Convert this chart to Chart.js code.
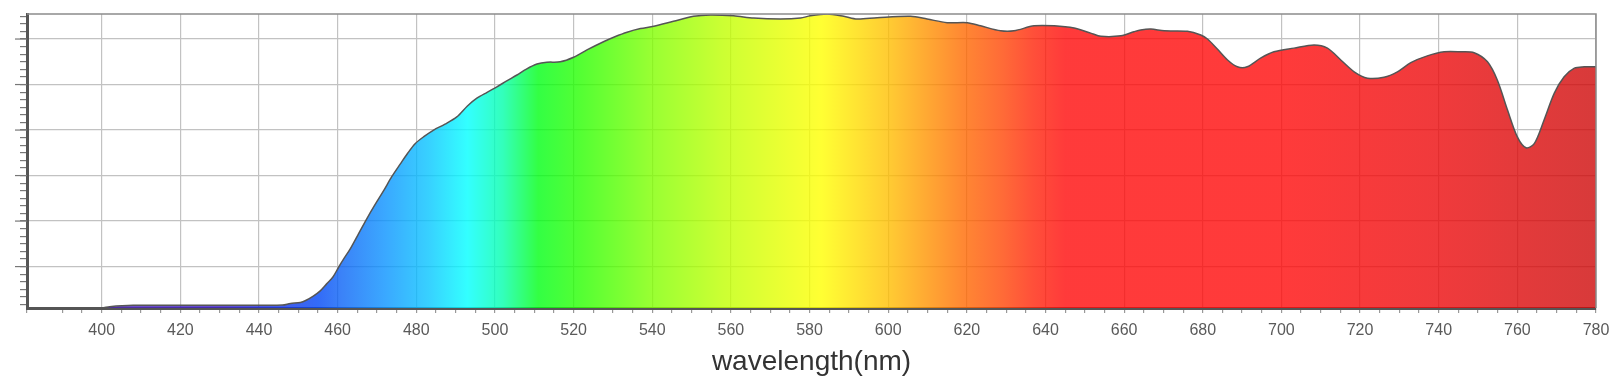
<!DOCTYPE html>
<html>
<head>
<meta charset="utf-8">
<script src="https://cdn.jsdelivr.net/npm/chart.js@4/dist/chart.umd.min.js"></script>
<style>
  body { margin: 0; background: #fff; }
</style>
</head>
<body>
<canvas id="spectrum" width="1620" height="384"></canvas>
<script>
// wavelength (nm) and relative intensity
const wavelength = [381, 400, 402, 408, 420, 440, 446, 448, 450.5, 452, 453.8, 455.5, 457.2, 458.8, 460.2,
  461.7, 463.2, 465.3, 467.4, 469.5, 471.7, 473.8, 475.9, 477.8, 479.7, 482, 484.4, 487.3, 490.3, 493,
  495.4, 498, 500.5, 503, 505.6, 508, 510.7, 513.2, 516.6, 520, 523.4, 527.6, 530.5, 533.6, 537, 540.4,
  545.4, 550.5, 554.8, 560.7, 565.8, 572.6, 577.7, 580.2, 584.5, 588.7, 592.1, 597.2, 605.7, 609.9, 615,
  620.1, 623.5, 628.6, 632, 637.1, 642.2, 647.3, 651.5, 654.1, 659.2, 662.5, 664.2, 666.8, 670.2, 676.1,
  679.5, 681.2, 683.7, 686.3, 688.8, 691.3, 694.7, 698.1, 703.2, 708.3, 711.7, 715.1, 718.5, 721.9, 726.1,
  729.5, 732.9, 737.1, 741.4, 745.6, 749, 752.4, 754.9, 757.5, 760, 762.2, 764.3, 766.8, 769.4, 771.9,
  774.5, 777, 780];
const intensity = [0.09, 0.09, 0.12, 0.15, 0.15, 0.15, 0.155, 0.19, 0.21, 0.26, 0.35, 0.46, 0.62, 0.77, 0.98,
  1.19, 1.39, 1.72, 2.05, 2.36, 2.67, 2.98, 3.25, 3.49, 3.70, 3.86, 4.00, 4.13, 4.29, 4.53,
  4.70, 4.83, 4.95, 5.08, 5.21, 5.34, 5.45, 5.49, 5.50, 5.60, 5.76, 5.94, 6.05, 6.15, 6.23, 6.28,
  6.39, 6.50, 6.53, 6.51, 6.46, 6.44, 6.46, 6.51, 6.55, 6.50, 6.44, 6.47, 6.50, 6.44, 6.36,
  6.36, 6.29, 6.18, 6.18, 6.29, 6.29, 6.24, 6.13, 6.06, 6.07, 6.16, 6.20, 6.22, 6.18, 6.17,
  6.09, 6.00, 5.78, 5.54, 5.39, 5.39, 5.58, 5.72, 5.80, 5.87, 5.80, 5.54, 5.28, 5.14, 5.16,
  5.28, 5.48, 5.63, 5.72, 5.72, 5.70, 5.50, 5.10, 4.44, 3.85, 3.61, 3.70, 4.22, 4.81, 5.17,
  5.36, 5.39, 5.39];

const xMin = 381, xMax = 780;
const xLabelEvery = 20;
const yMin = 0.09, yMax = 6.55;
const yMajor = [1, 2, 3, 4, 5, 6];
const yMinorPerMajor = 6;

// colour stops of the spectrum fill
const spectrumStops = [
  [381, 'rgba(90,40,170,0.8)'], [430, 'rgba(60,30,200,0.8)'], [445, 'rgba(20,50,230,0.8)'],
  [455, 'rgba(0,70,245,0.8)'], [461, 'rgba(10,99,246,0.8)'], [472, 'rgba(9,146,255,0.8)'],
  [483, 'rgba(6,196,255,0.8)'], [493, 'rgba(0,255,255,0.8)'], [502, 'rgba(0,255,170,0.8)'],
  [511, 'rgba(0,255,21,0.8)'], [522, 'rgba(42,255,0,0.8)'], [540, 'rgba(128,255,0,0.8)'],
  [558, 'rgba(191,255,0,0.8)'], [583, 'rgba(255,255,0,0.8)'], [600, 'rgba(255,191,0,0.8)'],
  [619, 'rgba(255,106,0,0.8)'], [629, 'rgba(255,70,5,0.8)'], [637, 'rgba(255,35,8,0.8)'],
  [645, 'rgba(255,9,9,0.8)'], [700, 'rgba(255,9,9,0.8)'], [740, 'rgba(236,9,11,0.8)'],
  [780, 'rgba(206,9,9,0.8)']
];

const yTickValues = [];
for (let k = 1; k * (1 / yMinorPerMajor) <= yMax; k++) {
  yTickValues.push(k / yMinorPerMajor);
}

function spectrumFill(context) {
  const chart = context.chart;
  const area = chart.chartArea;
  if (!area) return 'rgba(255,9,9,0.8)';
  const xs = chart.scales.x;
  const x0 = xs.getPixelForValue(xMin), x1 = xs.getPixelForValue(xMax);
  const g = chart.ctx.createLinearGradient(x0, 0, x1, 0);
  spectrumStops.forEach(s => {
    g.addColorStop((s[0] - xMin) / (xMax - xMin), s[1]);
  });
  return g;
}

// top / right frame and the longer major ticks on the y axis
const framePlugin = {
  id: 'frame',
  afterDraw(chart) {
    const c = chart.ctx, a = chart.chartArea, ys = chart.scales.y;
    c.save();
    c.strokeStyle = '#8c8c8c';
    c.lineWidth = 1.5;
    c.beginPath();
    c.moveTo(a.left, a.top);
    c.lineTo(a.right, a.top);
    c.lineTo(a.right, a.bottom);
    c.stroke();
    c.strokeStyle = '#777';
    c.lineWidth = 1.2;
    yMajor.forEach(v => {
      const y = ys.getPixelForValue(v);
      c.beginPath();
      c.moveTo(a.left - 12, y);
      c.lineTo(a.left, y);
      c.stroke();
    });
    c.restore();
  }
};

const ctx = document.getElementById('spectrum').getContext('2d');
const spectrumChart = new Chart(ctx, {
  type: 'line',
  data: {
    datasets: [{
      data: wavelength.map((w, i) => ({ x: w, y: intensity[i] })),
      borderColor: '#555',
      borderWidth: 1.5,
      backgroundColor: spectrumFill,
      fill: 'start',
      pointRadius: 0,
      tension: 0.3
    }]
  },
  options: {
    responsive: false,
    animation: false,
    layout: { padding: { top: 14, right: 24, bottom: 8, left: 20 } },
    plugins: { legend: { display: false }, tooltip: { enabled: false } },
    scales: {
      x: {
        type: 'linear',
        min: xMin,
        max: xMax,
        ticks: {
          stepSize: 5,
          autoSkip: false,
          maxRotation: 0,
          padding: 9.5,
          color: '#5a5a5a',
          font: { family: 'Liberation Sans', size: 16, lineHeight: 1.0 },
          callback: v => (v % xLabelEvery === 0 ? v : '')
        },
        grid: {
          color: c => (c.tick && c.tick.value % xLabelEvery === 0 ? '#c2c2c2' : 'rgba(0,0,0,0)'),
          lineWidth: 1.2,
          tickColor: '#999',
          tickLength: 5
        },
        border: { color: '#555', width: 3 },
        title: {
          display: true,
          text: 'wavelength(nm)',
          color: '#333',
          font: { family: 'Liberation Sans', size: 28, lineHeight: 1.0 },
          padding: { top: 0, bottom: 0 }
        }
      },
      y: {
        min: yMin,
        max: yMax,
        afterBuildTicks: scale => {
          scale.ticks = yTickValues.map(v => ({ value: v }));
        },
        ticks: { display: false },
        grid: {
          color: c => (c.tick && Math.abs(c.tick.value - Math.round(c.tick.value)) < 1e-6 ? '#c2c2c2' : 'rgba(0,0,0,0)'),
          lineWidth: 1.2,
          tickColor: '#777',
          tickLength: 7
        },
        border: { color: '#555', width: 3 }
      }
    }
  },
  plugins: [framePlugin]
});
</script>
</body>
</html>
